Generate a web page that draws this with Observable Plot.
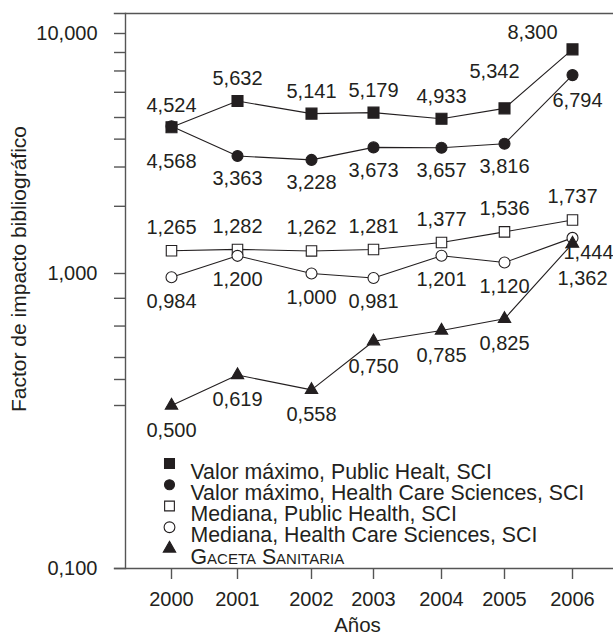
<!DOCTYPE html>
<html>
<head>
<meta charset="utf-8">
<script src="https://cdn.jsdelivr.net/npm/d3@7"></script>
<script src="https://cdn.jsdelivr.net/npm/@observablehq/plot@0.6"></script>
<style>
  body { margin: 0; background: #fff; }
  #chart svg { display: block; }
</style>
</head>
<body>
<div id="chart"></div>
<script>
// ---- data ----
const years = [2000, 2001, 2002, 2003, 2004, 2005, 2006];
const seriesNames = [
  "Valor máximo, Public Healt, SCI",
  "Valor máximo, Health Care Sciences, SCI",
  "Mediana, Public Health, SCI",
  "Mediana, Health Care Sciences, SCI",
  "Gaceta Sanitaria"
];
const maxPublicHealth    = [4.524, 5.632, 5.141, 5.179, 4.933, 5.342, 8.300];
const maxHealthCare      = [4.568, 3.363, 3.228, 3.673, 3.657, 3.816, 6.794];
const medianPublicHealth = [1.265, 1.282, 1.262, 1.281, 1.377, 1.536, 1.737];
const medianHealthCare   = [0.984, 1.200, 1.000, 0.981, 1.201, 1.120, 1.444];
const gacetaSanitaria    = [0.500, 0.619, 0.558, 0.750, 0.785, 0.825, 1.362];
const yTicks = [0.1, 1, 10];
const yMinorTicks = [0.5, 0.6, 0.7, 0.8, 0.9, 2, 3, 4, 5, 6, 7, 8];
const yTitle = "Factor de impacto bibliográfico";
const xTitle = "Años";

// ---- styles ----
const INK = "#231f20";
const AXIS = "#555";
const FONT = "'Liberation Sans', Arial, Helvetica, sans-serif";
const FS = 20;
const styles = [
  {symbol: "square",   fill: INK,     r: 6.2, lr: 5.6, labelDy: -22},
  {symbol: "circle",   fill: INK,     r: 5.5, lr: 5.0, labelDy: 23},
  {symbol: "square",   fill: "white", r: 5.9, lr: 5.5, labelDy: -23},
  {symbol: "circle",   fill: "white", r: 5.5, lr: 5.4, labelDy: 24},
  {symbol: "triangle", fill: INK,     r: 4.6, lr: 4.6, labelDy: 25}
];
// label nudges [dx, dy] for crowded points
const nudges = {
  "0-2005": [-10, -37], "0-2006": [-40, -17],
  "1-2000": [0, 35],    "1-2006": [5, 25],
  "3-2006": [16, 15],   "4-2006": [10, 35]
};

const valueSets = [maxPublicHealth, maxHealthCare, medianPublicHealth, medianHealthCare, gacetaSanitaria];
const rows = valueSets.flatMap((vals, s) =>
  years.map((year, i) => ({s, series: seriesNames[s], year, value: vals[i]})));
const fmt = v => v.toFixed(3).replace(".", ",");

const lineMarks = [Plot.line(rows, {x: "year", y: "value", z: "series", stroke: INK, strokeWidth: 1.1})];
const dotMarks = styles.map((st, s) =>
  Plot.dot(rows.filter(d => d.s === s), {
    x: "year", y: "value", symbol: st.symbol, r: st.r,
    fill: st.fill, stroke: INK, strokeWidth: 1.1
  }));
const labelMarks = rows.map(d => {
  const [dx, dy] = nudges[`${d.s}-${d.year}`] ?? [0, styles[d.s].labelDy];
  return Plot.text([d], {x: "year", y: "value", text: r => fmt(r.value), dx, dy, fontSize: FS, fill: INK});
});
const legendMarks = seriesNames.flatMap((name, i) => [
  Plot.dot([name], {
    frameAnchor: "top-left", dx: 44, dy: 450 + i * 21.25,
    symbol: styles[i].symbol, r: styles[i].lr, fill: styles[i].fill, stroke: INK, strokeWidth: 1.1
  }),
  Plot.text([name], {
    frameAnchor: "top-left", dx: 65, dy: 450 + i * 21.25, textAnchor: "start",
    text: d => d, fontSize: 21.3, fill: INK,
    fontVariant: i === 4 ? "small-caps" : "normal"
  })
]);

const chart = Plot.plot({
  width: 613,
  height: 640,
  marginLeft: 125,
  marginTop: 13,
  marginRight: 0,
  marginBottom: 72,
  style: {fontFamily: FONT, color: INK, background: "white", overflow: "visible"},
  x: {type: "linear", domain: years, range: [171, 237, 311, 373, 441, 504, 572]},
  y: {type: "log", domain: [0.1, 0.5, 0.7, 1, 5, 8, 10], range: [568, 405, 357, 273, 117, 52, 33]},
  marks: [
    Plot.frame({anchor: "top", stroke: AXIS, strokeWidth: 1.4, insetLeft: -11}),
    Plot.frame({anchor: "bottom", stroke: AXIS, strokeWidth: 1.4, insetLeft: -11}),
    Plot.frame({anchor: "left", stroke: AXIS, strokeWidth: 1.4}),
    Plot.axisY({ticks: yTicks, tickFormat: fmt, tickSize: 11, tickPadding: 17, fontSize: FS,
                stroke: AXIS, strokeWidth: 1.4, label: null}),
    Plot.axisY({ticks: yMinorTicks, tickFormat: () => "", tickSize: 11, stroke: AXIS, strokeWidth: 1.4, label: null}),
    Plot.axisX({ticks: years, tickFormat: d => String(d), tickSize: 11, tickPadding: 12, fontSize: FS,
                stroke: AXIS, strokeWidth: 1.4, label: null}),
    Plot.text([yTitle], {frameAnchor: "left", textAnchor: "middle", dx: -106, dy: -22, rotate: -90,
                         text: d => d, fontSize: 21, fill: INK}),
    Plot.text([xTitle], {frameAnchor: "bottom", textAnchor: "middle", dx: -12, dy: 63,
                         text: d => d, fontSize: 20.5, fill: INK}),
    ...lineMarks,
    ...dotMarks,
    ...labelMarks,
    ...legendMarks
  ]
});
document.getElementById("chart").append(chart);
</script>
</body>
</html>
